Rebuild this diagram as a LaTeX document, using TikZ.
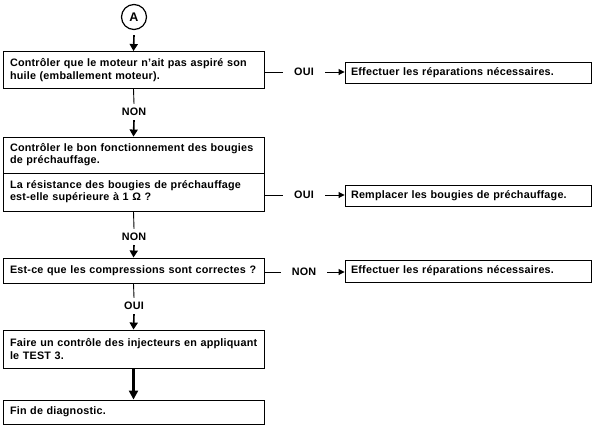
\documentclass[tikz,border=0pt]{standalone}
\usepackage{fontspec}
\setmainfont{Liberation Sans}[LetterSpace=2]
\usetikzlibrary{arrows.meta}
\begin{document}
\begin{tikzpicture}[x=1pt,y=-1pt,
  every node/.style={font=\fontsize{10.8}{12.2}\selectfont\bfseries},
  leftbox/.style={draw,line width=0.9pt,rectangle,text width=247pt,inner xsep=7pt,inner ysep=0pt,align=left,anchor=center},
  rightbox/.style={draw,line width=0.9pt,rectangle,text width=234pt,inner xsep=6pt,inner ysep=0pt,align=left,anchor=center},
  lab/.style={inner xsep=11pt,inner ysep=4pt},
  conn/.style={line width=0.9pt},
  varrow/.style={line width=1.6pt,-{Triangle[length=7pt,width=8pt]}},
  harrow/.style={line width=0.9pt,-{Triangle[length=6pt,width=6pt]}},
  bigarrow/.style={line width=2.2pt,-{Triangle[length=9pt,width=9pt]}}
]
\useasboundingbox (0,0) rectangle (594,426);
% start circle
\node[draw,circle,line width=1.2pt,minimum size=25pt,inner sep=0pt,font=\fontsize{12.5}{14}\selectfont\bfseries] (A) at (134,17) {A};
% left column
\node[leftbox,minimum height=37pt] (b1) at (133.5,70) {\mbox{Contrôler que le moteur n'ait pas aspiré son}\\\mbox{huile (emballement moteur).}};
\node[lab] (non1) at (134,112) {NON};
\node[leftbox,minimum height=36pt] (b2a) at (133.5,155) {\mbox{Contrôler le bon fonctionnement des bougies}\\\mbox{de préchauffage.}};
\node[leftbox,minimum height=38pt] (b2b) at (133.5,192) {\mbox{La résistance des bougies de préchauffage}\\\mbox{est-elle supérieure à 1 Ω ?}};
\node[lab] (non2) at (134,237) {NON};
\node[leftbox,minimum height=25pt] (b3) at (133.5,270.5) {\mbox{Est-ce que les compressions sont correctes ?}};
\node[lab] (oui3) at (134,306) {OUI};
\node[leftbox,minimum height=38pt] (b4) at (133.5,349) {\mbox{Faire un contrôle des injecteurs en appliquant}\\\mbox{le TEST 3.}};
\node[leftbox,minimum height=24pt] (b5) at (133.5,412) {\mbox{Fin de diagnostic.}};
% right column
\node[lab] (oui1) at (304,72) {OUI};
\node[rightbox,minimum height=21pt] (r1) at (468,72.5) {\mbox{Effectuer les réparations nécessaires.}};
\node[lab] (oui2) at (304,195) {OUI};
\node[rightbox,minimum height=21pt] (r2) at (468,195.5) {\mbox{Remplacer les bougies de préchauffage.}};
\node[lab] (non3) at (304,272) {NON};
\node[rightbox,minimum height=22pt] (r3) at (468,271) {\mbox{Effectuer les réparations nécessaires.}};
% vertical connectors
\draw[varrow] ([yshift=-5pt]A.south) -- (b1.north);
\draw[conn] (b1.south) -- (non1.north);
\draw[varrow] (non1.south) -- (b2a.north);
\draw[conn] (b2b.south) -- (non2.north);
\draw[varrow] (non2.south) -- (b3.north);
\draw[conn] (b3.south) -- (oui3.north);
\draw[varrow] (oui3.south) -- (b4.north);
\draw[bigarrow] (b4.south) -- (b5.north);
% horizontal connectors
\draw[conn] (b1.east |- oui1.west) -- (oui1.west);
\draw[harrow] (oui1.east) -- (r1.west |- oui1.east);
\draw[conn] (b2b.east |- oui2.west) -- (oui2.west);
\draw[harrow] (oui2.east) -- (r2.west |- oui2.east);
\draw[conn] (b3.east |- non3.west) -- (non3.west);
\draw[harrow] (non3.east) -- (r3.west |- non3.east);
\end{tikzpicture}
\end{document}
